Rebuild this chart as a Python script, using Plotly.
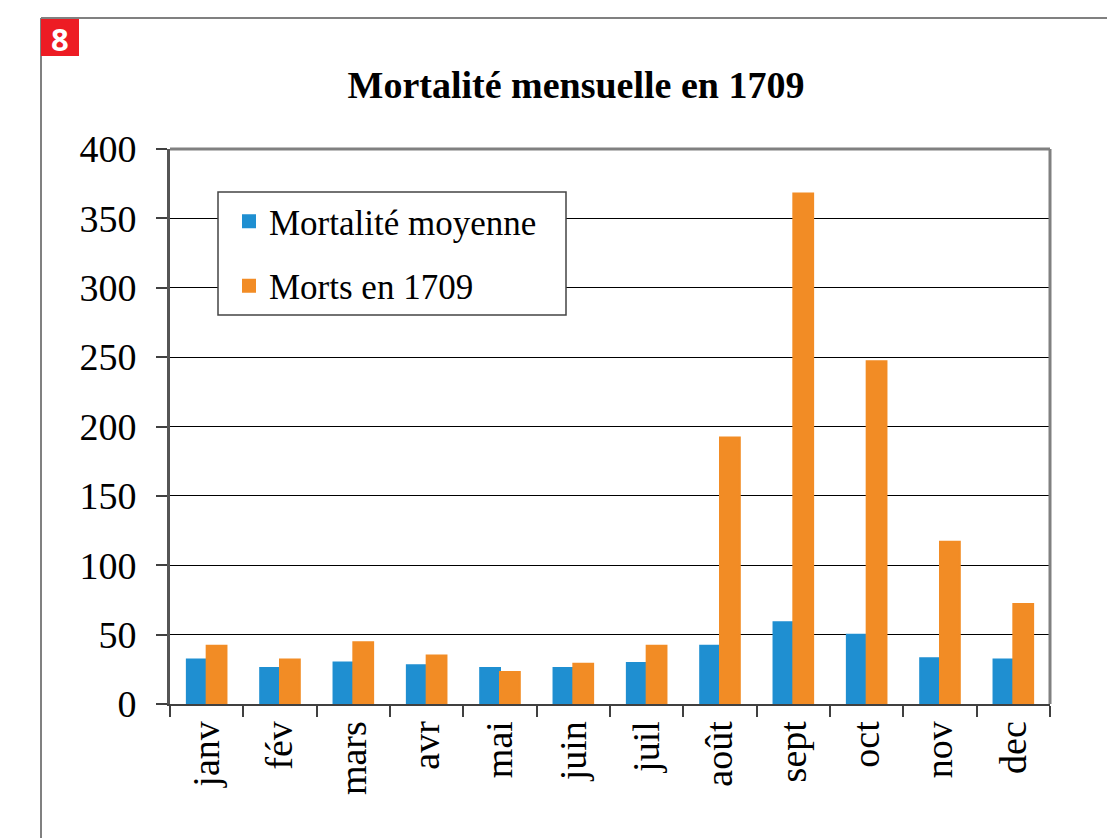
import plotly.graph_objects as go

months = ["janv", "fév", "mars", "avr", "mai", "juin", "juil", "août", "sept", "oct", "nov", "dec"]
mortalite_moyenne = [32, 26, 30, 28, 26, 26, 29.5, 42, 59, 50, 33, 32]
morts_1709 = [42, 32, 44.5, 35, 23, 29, 42, 192, 368, 247, 117, 72]
y_ticks = [0, 50, 100, 150, 200, 250, 300, 350, 400]

OFF = 8  # page body margin
W, H = 1115 - OFF, 838 - OFF
L, R, T, B = 170 - OFF, 1050 - OFF, 149 - OFF, 704 - OFF

def px(x):
    return (x - OFF - L) / (R - L)

def py(y):
    return (B - (y - OFF)) / (B - T)

serif = "Liberation Serif"
BLUE = "#1F8FD1"
ORANGE = "#F28C25"

fig = go.Figure()
fig.add_trace(go.Bar(name="Mortalité moyenne", x=months, y=mortalite_moyenne,
                     marker=dict(color=BLUE, line=dict(width=2, color=BLUE)), legendgroup="a"))
fig.add_trace(go.Bar(name="Morts en 1709", x=months, y=morts_1709,
                     marker=dict(color=ORANGE, line=dict(width=2, color=ORANGE)), legendgroup="b"))

fig.update_layout(
    width=W, height=H,
    margin=dict(l=L, r=W - R, t=T, b=H - B, autoexpand=False),
    paper_bgcolor="white", plot_bgcolor="white",
    barmode="group", bargap=0.46, bargroupgap=0,
    font=dict(family=serif, color="black", size=35),
    title=dict(text="<b>Mortalité mensuelle en 1709</b>", x=px(576), xref="paper", xanchor="center",
               y=1 - (85 - OFF) / H, yanchor="middle", font=dict(size=38, family=serif, color="black")),
    legend=dict(x=px(229), y=py(192), xanchor="left", yanchor="top",
                borderwidth=0, bgcolor="rgba(0,0,0,0)",
                font=dict(size=35, family=serif, color="black"), traceorder="grouped",
                tracegroupgap=16, itemwidth=30),
    xaxis=dict(showline=True, linecolor="#404040", linewidth=2, ticks="outside",
               tickson="boundaries", ticklen=11, tickcolor="#404040", tickwidth=1.5,
               tickangle=-90, tickfont=dict(size=38, family=serif, color="black")),
    yaxis=dict(range=[0, 400], tickvals=y_ticks, showgrid=True, gridcolor="black", gridwidth=1,
               showline=True, linecolor="#555555", linewidth=3, ticks="outside", ticklen=11,
               tickcolor="#404040", tickwidth=1.5, tickfont=dict(size=38, family=serif, color="black"),
               ticklabelstandoff=12, zeroline=False),
    showlegend=True,
)

# plot border top/right
fig.add_shape(type="line", xref="paper", yref="paper", x0=0, x1=1, y0=1, y1=1,
              line=dict(color="#808080", width=3))
fig.add_shape(type="line", xref="paper", yref="paper", x0=1, x1=1, y0=0, y1=1,
              line=dict(color="#808080", width=3))
# legend box
fig.add_shape(type="rect", xref="paper", yref="paper", x0=px(218), x1=px(566), y0=py(192), y1=py(315),
              fillcolor="white", line=dict(color="#444444", width=1.5), layer="above")
# outer frame
fig.add_shape(type="line", xref="paper", yref="paper", x0=px(41), x1=px(1113), y0=py(18), y1=py(18),
              line=dict(color="#808080", width=2))
fig.add_shape(type="line", xref="paper", yref="paper", x0=px(41), x1=px(41), y0=py(18), y1=py(838),
              line=dict(color="#808080", width=2))
# badge
fig.add_shape(type="rect", xref="paper", yref="paper", x0=px(41), x1=px(79), y0=py(19), y1=py(56),
              fillcolor="#ED1C24", line=dict(width=0))
fig.add_annotation(text="<b>8</b>", xref="paper", yref="paper", x=px(60), y=py(39),
                   showarrow=False, font=dict(family="Open Sans", size=31, color="white"),
                   xanchor="center", yanchor="middle")

fig.write_html("out.html")
